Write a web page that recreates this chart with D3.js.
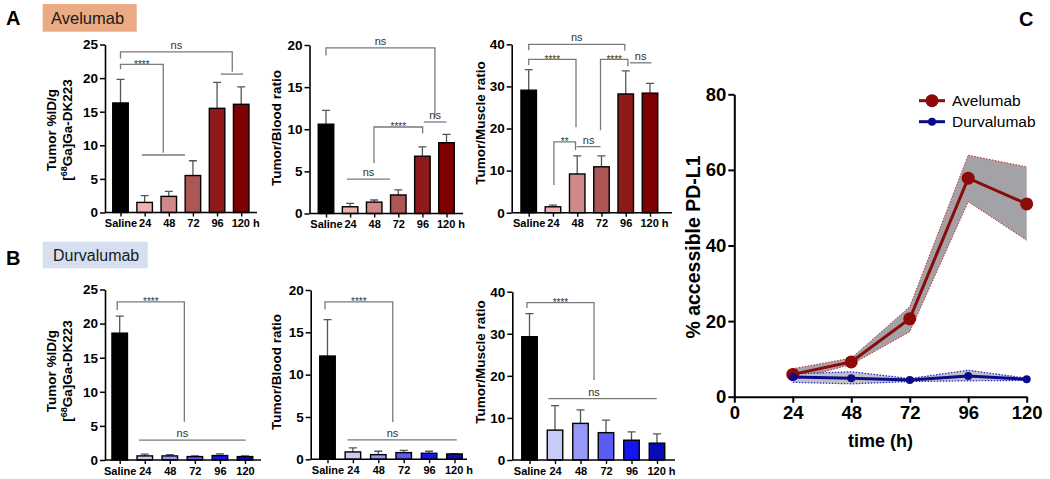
<!DOCTYPE html>
<html><head><meta charset="utf-8">
<script src="https://cdn.jsdelivr.net/npm/d3@7"></script>
<style>
body{margin:0;background:#fff;}
text{font-family:"Liberation Sans",Arial,Helvetica,sans-serif;}
</style></head>
<body><svg id="c" width="1050" height="479"></svg>
<script>
// ---------- DATA ----------
const catsA = ["Saline","24","48","72","96","120 h"];
const catsB1 = ["Saline","24","48","72","96","120"];
const catsB = ["Saline","24","48","72","96","120 h"];

const avTumor = [16.3, 1.5, 2.4, 5.5, 15.5, 16.1];
const avTumorSem = [3.5, 1.0, 0.75, 2.2, 3.85, 2.6];
const avBlood = [10.6, 0.8, 1.35, 2.2, 6.8, 8.4];
const avBloodSem = [1.65, 0.4, 0.25, 0.6, 1.1, 1.0];
const avMuscle = [29.1, 1.4, 9.2, 10.9, 28.2, 28.4];
const avMuscleSem = [4.9, 0.4, 4.3, 2.6, 5.5, 2.3];

const duTumor = [18.6, 0.6, 0.6, 0.5, 0.65, 0.5];
const duTumorSem = [2.5, 0.25, 0.2, 0.1, 0.25, 0.1];
const duBlood = [12.2, 0.87, 0.55, 0.79, 0.71, 0.63];
const duBloodSem = [4.3, 0.47, 0.4, 0.27, 0.24, 0.04];
const duMuscle = [29.3, 7.1, 8.7, 6.5, 4.7, 4.0];
const duMuscleSem = [5.5, 5.8, 3.2, 3.0, 2.0, 2.2];

const avColors = ["#000000","#eeb2b2","#d08888","#ad5656","#8e1a1a","#7f0000"];
const duColors = ["#000000","#c9cbf7","#9799f7","#5a5cf4","#1515f0","#0a0ab8"];

// significance brackets: x in category index, y in data units
const sigA1 = [
  {x1:0, x2:4.63, y:23.9, l1:22.9, l2:20.95, t:"ns"},
  {x1:4.15, x2:5.08, y:20.6, l1:20.6, l2:20.6, t:""},
  {x1:0, x2:1.77, y:22.05, l1:21.3, l2:8.9, t:"****"},
  {x1:0.88, x2:2.67, y:8.56, l1:8.56, l2:8.56, t:""}
];
const sigA2 = [
  {x1:0, x2:4.52, y:19.67, l1:18.75, l2:11.4, t:"ns"},
  {x1:4.06, x2:5.0, y:10.86, l1:10.86, l2:10.86, t:"ns"},
  {x1:1.99, x2:4.01, y:10.27, l1:5.98, l2:9.5, t:"****"},
  {x1:0.87, x2:2.66, y:4.08, l1:4.08, l2:4.08, t:"ns"}
];
const sigA3 = [
  {x1:0, x2:3.96, y:40.0, l1:38.6, l2:38.5, t:"ns"},
  {x1:0, x2:1.95, y:36.4, l1:35.1, l2:20.3, t:"****"},
  {x1:2.96, x2:4.09, y:36.4, l1:19.6, l2:34.8, t:"****"},
  {x1:4.17, x2:5.06, y:35.6, l1:35.6, l2:35.6, t:"ns"},
  {x1:1.04, x2:1.93, y:16.8, l1:6.6, l2:14.9, t:"**"},
  {x1:1.98, x2:2.96, y:15.7, l1:15.7, l2:15.7, t:"ns"}
];
const sigB1 = [
  {x1:-0.1, x2:2.58, y:23.2, l1:22.0, l2:5.6, t:"****"},
  {x1:0.77, x2:5.03, y:2.9, l1:2.9, l2:2.9, t:"ns", lx:2.5}
];
const sigB2 = [
  {x1:-0.1, x2:2.57, y:18.6, l1:17.7, l2:4.4, t:"****"},
  {x1:0.79, x2:5.09, y:2.3, l1:2.3, l2:2.3, t:"ns", lx:2.56}
];
const sigB3 = [
  {x1:-0.1, x2:2.53, y:37.4, l1:36.1, l2:19.0, t:"****"},
  {x1:0.74, x2:4.99, y:14.6, l1:14.6, l2:14.6, t:"ns", lx:2.53}
];

// panel C
const hours = [24,48,72,96,120];
const xTicksC = [0,24,48,72,96,120];
const yTicksC = [0,20,40,60,80];
const avPct = [5.9, 9.2, 20.6, 57.8, 51.0];
const avLo  = [4.4, 8.5, 17.2, 51.6, 41.4];
const avHi  = [7.4, 10.2, 23.8, 63.9, 60.8];
const duPct = [5.2, 4.9, 4.4, 5.5, 4.6];
const duLo  = [3.8, 3.4, 4.0, 4.2, 4.3];
const duHi  = [6.0, 6.6, 4.8, 7.0, 4.9];

// ---------- DRAW ----------
const svg = d3.select("#c");
const FONT = '"Liberation Sans",Arial,Helvetica,sans-serif';

function barPanel(o){
  const g = svg.append("g");
  const x = d3.scalePoint().domain(o.cats).range([o.c0, o.c5]);
  const xi = d3.scaleLinear().domain([0, o.cats.length-1]).range([o.c0, o.c5]);
  const y = d3.scaleLinear().domain([0, o.max]).range([o.y0, o.yTop]);
  const bw = 15.5;
  g.selectAll(".err").data(o.vals).enter().append("path")
    .attr("d",(d,i)=>{const cx=x(o.cats[i]); const yt=y(d+o.sem[i]);
      return `M${cx},${y(d)}V${yt}M${cx-4},${yt}H${cx+4}`;})
    .attr("stroke","#555").attr("stroke-width",1.3).attr("fill","none");
  g.selectAll(".bar").data(o.vals).enter().append("rect")
    .attr("x",(d,i)=>x(o.cats[i])-bw/2).attr("width",bw)
    .attr("y",d=>y(d)).attr("height",d=>o.y0-y(d))
    .attr("fill",(d,i)=>o.colors[i]).attr("stroke","#000").attr("stroke-width",1.4);
  const ya = g.append("g").attr("transform",`translate(${o.ax0},0)`)
    .call(d3.axisLeft(y).tickValues(d3.range(0,o.max+0.001,o.tstep)).tickSize(5).tickSizeOuter(0).tickPadding(2));
  ya.select(".domain").attr("stroke","#000").attr("stroke-width",1.6);
  ya.selectAll(".tick line").attr("stroke","#000").attr("stroke-width",1.5);
  ya.selectAll(".tick text").attr("font-family",FONT).attr("font-weight","bold").attr("font-size",13.5).attr("fill","#000");
  const xa = g.append("g").attr("transform",`translate(0,${o.y0})`)
    .call(d3.axisBottom(x).tickSize(4).tickSizeOuter(0).tickPadding(3));
  xa.select(".domain").remove();
  xa.append("line").attr("x1",o.ax0).attr("x2",o.ax1).attr("stroke","#000").attr("stroke-width",1.6);
  xa.selectAll(".tick line").attr("stroke","#000").attr("stroke-width",1.4);
  xa.selectAll(".tick text").attr("font-family",FONT).attr("font-weight","bold").attr("font-size",11).attr("fill","#000")
    .attr("dx",d=>d.indexOf(" h")>0?4:0);
  const tt = g.append("text").attr("transform",`translate(${o.tx},${o.ty}) rotate(-90)`)
    .attr("text-anchor","middle").attr("font-weight","bold").attr("font-size",13.5).attr("fill","#000");
  tt.text(o.title);
  if(o.title2){
    const t2 = g.append("text").attr("transform",`translate(${o.tx+16},${o.ty}) rotate(-90)`)
      .attr("text-anchor","middle").attr("font-weight","bold").attr("font-size",13.5).attr("fill","#000");
    t2.append("tspan").text("[");
    t2.append("tspan").text("68").attr("font-size",9).attr("dy",-5);
    t2.append("tspan").text("Ga]Ga-DK223").attr("dy",5);
  }
  o.sig.forEach(s=>{
    const xa1 = xi(s.x1), xa2 = xi(s.x2), yy = y(s.y);
    g.append("path").attr("d",`M${xa1},${y(s.l1)}V${yy}H${xa2}V${y(s.l2)}`)
      .attr("fill","none").attr("stroke","#7a7a7a").attr("stroke-width",1.3);
    if(s.t){
      const lx = s.lx!==undefined ? xi(s.lx) : (xa1+xa2)/2;
      const star = s.t.indexOf("*")>=0;
      g.append("text").attr("x",lx).attr("y",star? yy+3.5 : yy-3)
        .attr("text-anchor","middle").attr("font-size",star?10:11).attr("fill","#333")
        .text(s.t);
    }
  });
}

barPanel({cats:catsA, vals:avTumor, sem:avTumorSem, colors:avColors, c0:120.5, c5:241.2, ax0:105, ax1:257,
  y0:212.5, yTop:44.5, max:25, tstep:5, title:"Tumor %ID/g", title2:true, tx:56, ty:130, sig:sigA1});
barPanel({cats:catsA, vals:avBlood, sem:avBloodSem, colors:avColors, c0:326, c5:446.5, ax0:309.5, ax1:463,
  y0:213.5, yTop:45, max:20, tstep:5, title:"Tumor/Blood ratio", tx:281, ty:128, sig:sigA2});
barPanel({cats:catsA, vals:avMuscle, sem:avMuscleSem, colors:avColors, c0:528.7, c5:650, ax0:511.7, ax1:672,
  y0:212.7, yTop:44.3, max:40, tstep:10, title:"Tumor/Muscle ratio", tx:485, ty:123, sig:sigA3});
barPanel({cats:catsB1, vals:duTumor, sem:duTumorSem, colors:duColors, c0:119.7, c5:245, ax0:105, ax1:261,
  y0:460, yTop:289.5, max:25, tstep:5, title:"Tumor %ID/g", title2:true, tx:56, ty:371, sig:sigB1});
barPanel({cats:catsB, vals:duBlood, sem:duBloodSem, colors:duColors, c0:327.5, c5:454.5, ax0:310.7, ax1:467,
  y0:459.3, yTop:290, max:20, tstep:5, title:"Tumor/Blood ratio", tx:281, ty:372, sig:sigB2});
barPanel({cats:catsB, vals:duMuscle, sem:duMuscleSem, colors:duColors, c0:529.5, c5:657, ax0:512.3, ax1:675,
  y0:460, yTop:291.7, max:40, tstep:10, title:"Tumor/Muscle ratio", tx:485, ty:362, sig:sigB3});

svg.append("text").attr("x",6).attr("y",25).attr("font-weight","bold").attr("font-size",20).text("A");
svg.append("text").attr("x",6).attr("y",265).attr("font-weight","bold").attr("font-size",20).text("B");
svg.append("text").attr("x",1019).attr("y",26).attr("font-weight","bold").attr("font-size",20).text("C");
svg.append("rect").attr("x",42.7).attr("y",4).attr("width",94).attr("height",27.7).attr("fill","#e9aa84");
svg.append("text").attr("x",51).attr("y",24).attr("font-size",16.5).attr("fill","#1a1a1a").text("Avelumab");
svg.append("rect").attr("x",42.7).attr("y",241.7).attr("width",105).attr("height",26.6).attr("fill","#d5dff0");
svg.append("text").attr("x",53).attr("y",261).attr("font-size",16).attr("fill","#1a1a1a").text("Durvalumab");

// ---------- PANEL C ----------
const gc = svg.append("g");
const xc = d3.scaleLinear().domain([0,120]).range([734.3, 1026.7]);
const yc = d3.scaleLinear().domain([0,80]).range([396.7, 94.3]);

const areaAv = d3.area().x((d,i)=>xc(hours[i])).y0((d,i)=>yc(avLo[i])).y1((d,i)=>yc(avHi[i]));
const areaDu = d3.area().x((d,i)=>xc(hours[i])).y0((d,i)=>yc(duLo[i])).y1((d,i)=>yc(duHi[i]));
const ln = arr => d3.line().x((d,i)=>xc(hours[i])).y((d,i)=>yc(arr[i]))(arr);

gc.append("path").attr("d",areaAv(hours)).attr("fill","#a3a3a7");
gc.append("path").attr("d",ln(avHi)).attr("fill","none").attr("stroke","#cc2222").attr("stroke-width",1).attr("stroke-dasharray","1.5,1.5");
gc.append("path").attr("d",ln(avLo)).attr("fill","none").attr("stroke","#cc2222").attr("stroke-width",1).attr("stroke-dasharray","1.5,1.5");
gc.append("path").attr("d",areaDu(hours)).attr("fill","#c2c2c6");
gc.append("path").attr("d",ln(duHi)).attr("fill","none").attr("stroke","#2222cc").attr("stroke-width",1.2).attr("stroke-dasharray","1.5,1.5");
gc.append("path").attr("d",ln(duLo)).attr("fill","none").attr("stroke","#2222cc").attr("stroke-width",1.2).attr("stroke-dasharray","1.5,1.5");

gc.append("path").attr("d",ln(avPct)).attr("fill","none").attr("stroke","#8b0a0a").attr("stroke-width",3);
gc.selectAll(".av").data(avPct).enter().append("circle").attr("cx",(d,i)=>xc(hours[i])).attr("cy",d=>yc(d)).attr("r",6.5).attr("fill","#8b0a0a");
gc.append("path").attr("d",ln(duPct)).attr("fill","none").attr("stroke","#0a0a8b").attr("stroke-width",3);
gc.selectAll(".du").data(duPct).enter().append("circle").attr("cx",(d,i)=>xc(hours[i])).attr("cy",d=>yc(d)).attr("r",4).attr("fill","#0a0a8b");

const yac = gc.append("g").attr("transform",`translate(${xc(0)},0)`)
  .call(d3.axisLeft(yc).tickValues(yTicksC).tickSize(6).tickSizeOuter(0).tickPadding(2));
const xac = gc.append("g").attr("transform",`translate(0,${yc(0)})`)
  .call(d3.axisBottom(xc).tickValues(xTicksC).tickSize(6).tickSizeOuter(0).tickPadding(3));
[yac,xac].forEach(a=>{
  a.select(".domain").attr("stroke","#000").attr("stroke-width",2);
  a.selectAll(".tick line").attr("stroke","#000").attr("stroke-width",2);
  a.selectAll(".tick text").attr("font-family",FONT).attr("font-weight","bold").attr("font-size",18.5).attr("fill","#000");
});
gc.append("text").attr("x",xc(60)).attr("y",447).attr("text-anchor","middle").attr("font-weight","bold").attr("font-size",18).text("time (h)");
gc.append("text").attr("transform",`translate(700,247) rotate(-90)`).attr("text-anchor","middle").attr("font-weight","bold").attr("font-size",19.5).text("% accessible PD-L1");

const leg = [{n:"Avelumab", c:"#8b0a0a", r:6.5, y:100.7},{n:"Durvalumab", c:"#0a0a8b", r:4, y:121.7}];
leg.forEach(l=>{
  gc.append("line").attr("x1",919).attr("x2",945).attr("y1",l.y).attr("y2",l.y).attr("stroke",l.c).attr("stroke-width",3);
  gc.append("circle").attr("cx",932).attr("cy",l.y).attr("r",l.r).attr("fill",l.c);
  gc.append("text").attr("x",952).attr("y",l.y+5.5).attr("font-size",15.5).attr("fill","#000").text(l.n);
});
</script></body></html>
